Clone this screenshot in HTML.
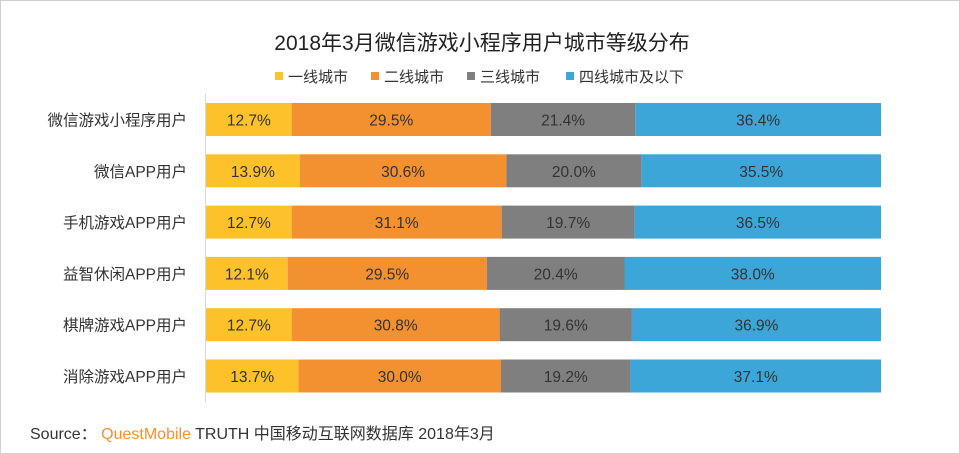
<!DOCTYPE html>
<html><head><meta charset="utf-8"><style>
html,body{margin:0;padding:0;background:#fff}
body{width:960px;height:454px;overflow:hidden;font-family:"Liberation Sans","Noto Sans CJK SC",sans-serif}
#wrap{position:absolute;left:0;top:0;width:958px;height:452px;border:1px solid #cfcfcf}
</style></head><body>
<div id="wrap"></div>
<svg id="chart" width="960" height="454" style="position:absolute;left:0;top:0" font-family="Liberation Sans, Noto Sans CJK SC, sans-serif">
<text x="482" y="50" text-anchor="middle" font-size="21" fill="#222">2018年3月微信游戏小程序用户城市等级分布</text>
<g id="legend"></g>
<g id="bars"></g>
<line x1="205.5" y1="94" x2="205.5" y2="402" stroke="#d9d9d9"/>
<text x="30" y="439" font-size="16" fill="#333">Source： <tspan fill="#F39130">QuestMobile</tspan> TRUTH 中国移动互联网数据库 2018年3月</text>
</svg>
<script>
const categories=["微信游戏小程序用户","微信APP用户","手机游戏APP用户","益智休闲APP用户","棋牌游戏APP用户","消除游戏APP用户"];
const seriesNames=["一线城市","二线城市","三线城市","四线城市及以下"];
const tier1=[12.7,13.9,12.7,12.1,12.7,13.7];
const tier2=[29.5,30.6,31.1,29.5,30.8,30.0];
const tier3=[21.4,20.0,19.7,20.4,19.6,19.2];
const tier4=[36.4,35.5,36.5,38.0,36.9,37.1];
const series=[tier1,tier2,tier3,tier4];
const colors=["#FDC12A","#F39130","#7F7F7F","#3DA6D9"];
const NS="http://www.w3.org/2000/svg";
const x0=206,plotW=675,yTop=103,rowStep=51.3,barH=33;
function xScale(v){return plotW*v/100;}
function yScale(i){return yTop+i*rowStep;}
const bars=document.getElementById('bars');
categories.forEach((c,i)=>{
  const total=series.reduce((s,a)=>s+a[i],0);
  let acc=0;const y=yScale(i);
  const lab=document.createElementNS(NS,'text');
  
  
  lab.setAttribute('x',187);lab.setAttribute('y',y+barH/2+6);
  lab.setAttribute('text-anchor','end');lab.setAttribute('font-size','15.5');lab.setAttribute('fill','#333');
  lab.textContent=c;bars.appendChild(lab);
  series.forEach((arr,k)=>{
    const v=arr[i]/total*100;
    const r=document.createElementNS(NS,'rect');
    
    
    r.setAttribute('x',x0+xScale(acc));r.setAttribute('y',y);
    r.setAttribute('width',xScale(v));r.setAttribute('height',barH);
    r.setAttribute('fill',colors[k]);bars.appendChild(r);
    const t=document.createElementNS(NS,'text');
    
    
    t.setAttribute('x',x0+xScale(acc+v/2));t.setAttribute('y',y+barH/2+6);
    t.setAttribute('text-anchor','middle');t.setAttribute('font-size','15.5');t.setAttribute('fill','#333');
    t.textContent=arr[i].toFixed(1)+'%';bars.appendChild(t);
    acc+=v;
  });
});
const legend=document.getElementById('legend');
const lx=[275,371,467,566];
seriesNames.forEach((n,k)=>{
  const r=document.createElementNS(NS,'rect');
  
  
  r.setAttribute('x',lx[k]);r.setAttribute('y',72);r.setAttribute('width',8);r.setAttribute('height',8);
  r.setAttribute('fill',colors[k]);legend.appendChild(r);
  const t=document.createElementNS(NS,'text');
  
  
  t.setAttribute('x',lx[k]+13);t.setAttribute('y',82);t.setAttribute('font-size','15');t.setAttribute('fill','#333');
  t.textContent=n;legend.appendChild(t);
});
</script>
</body></html>
